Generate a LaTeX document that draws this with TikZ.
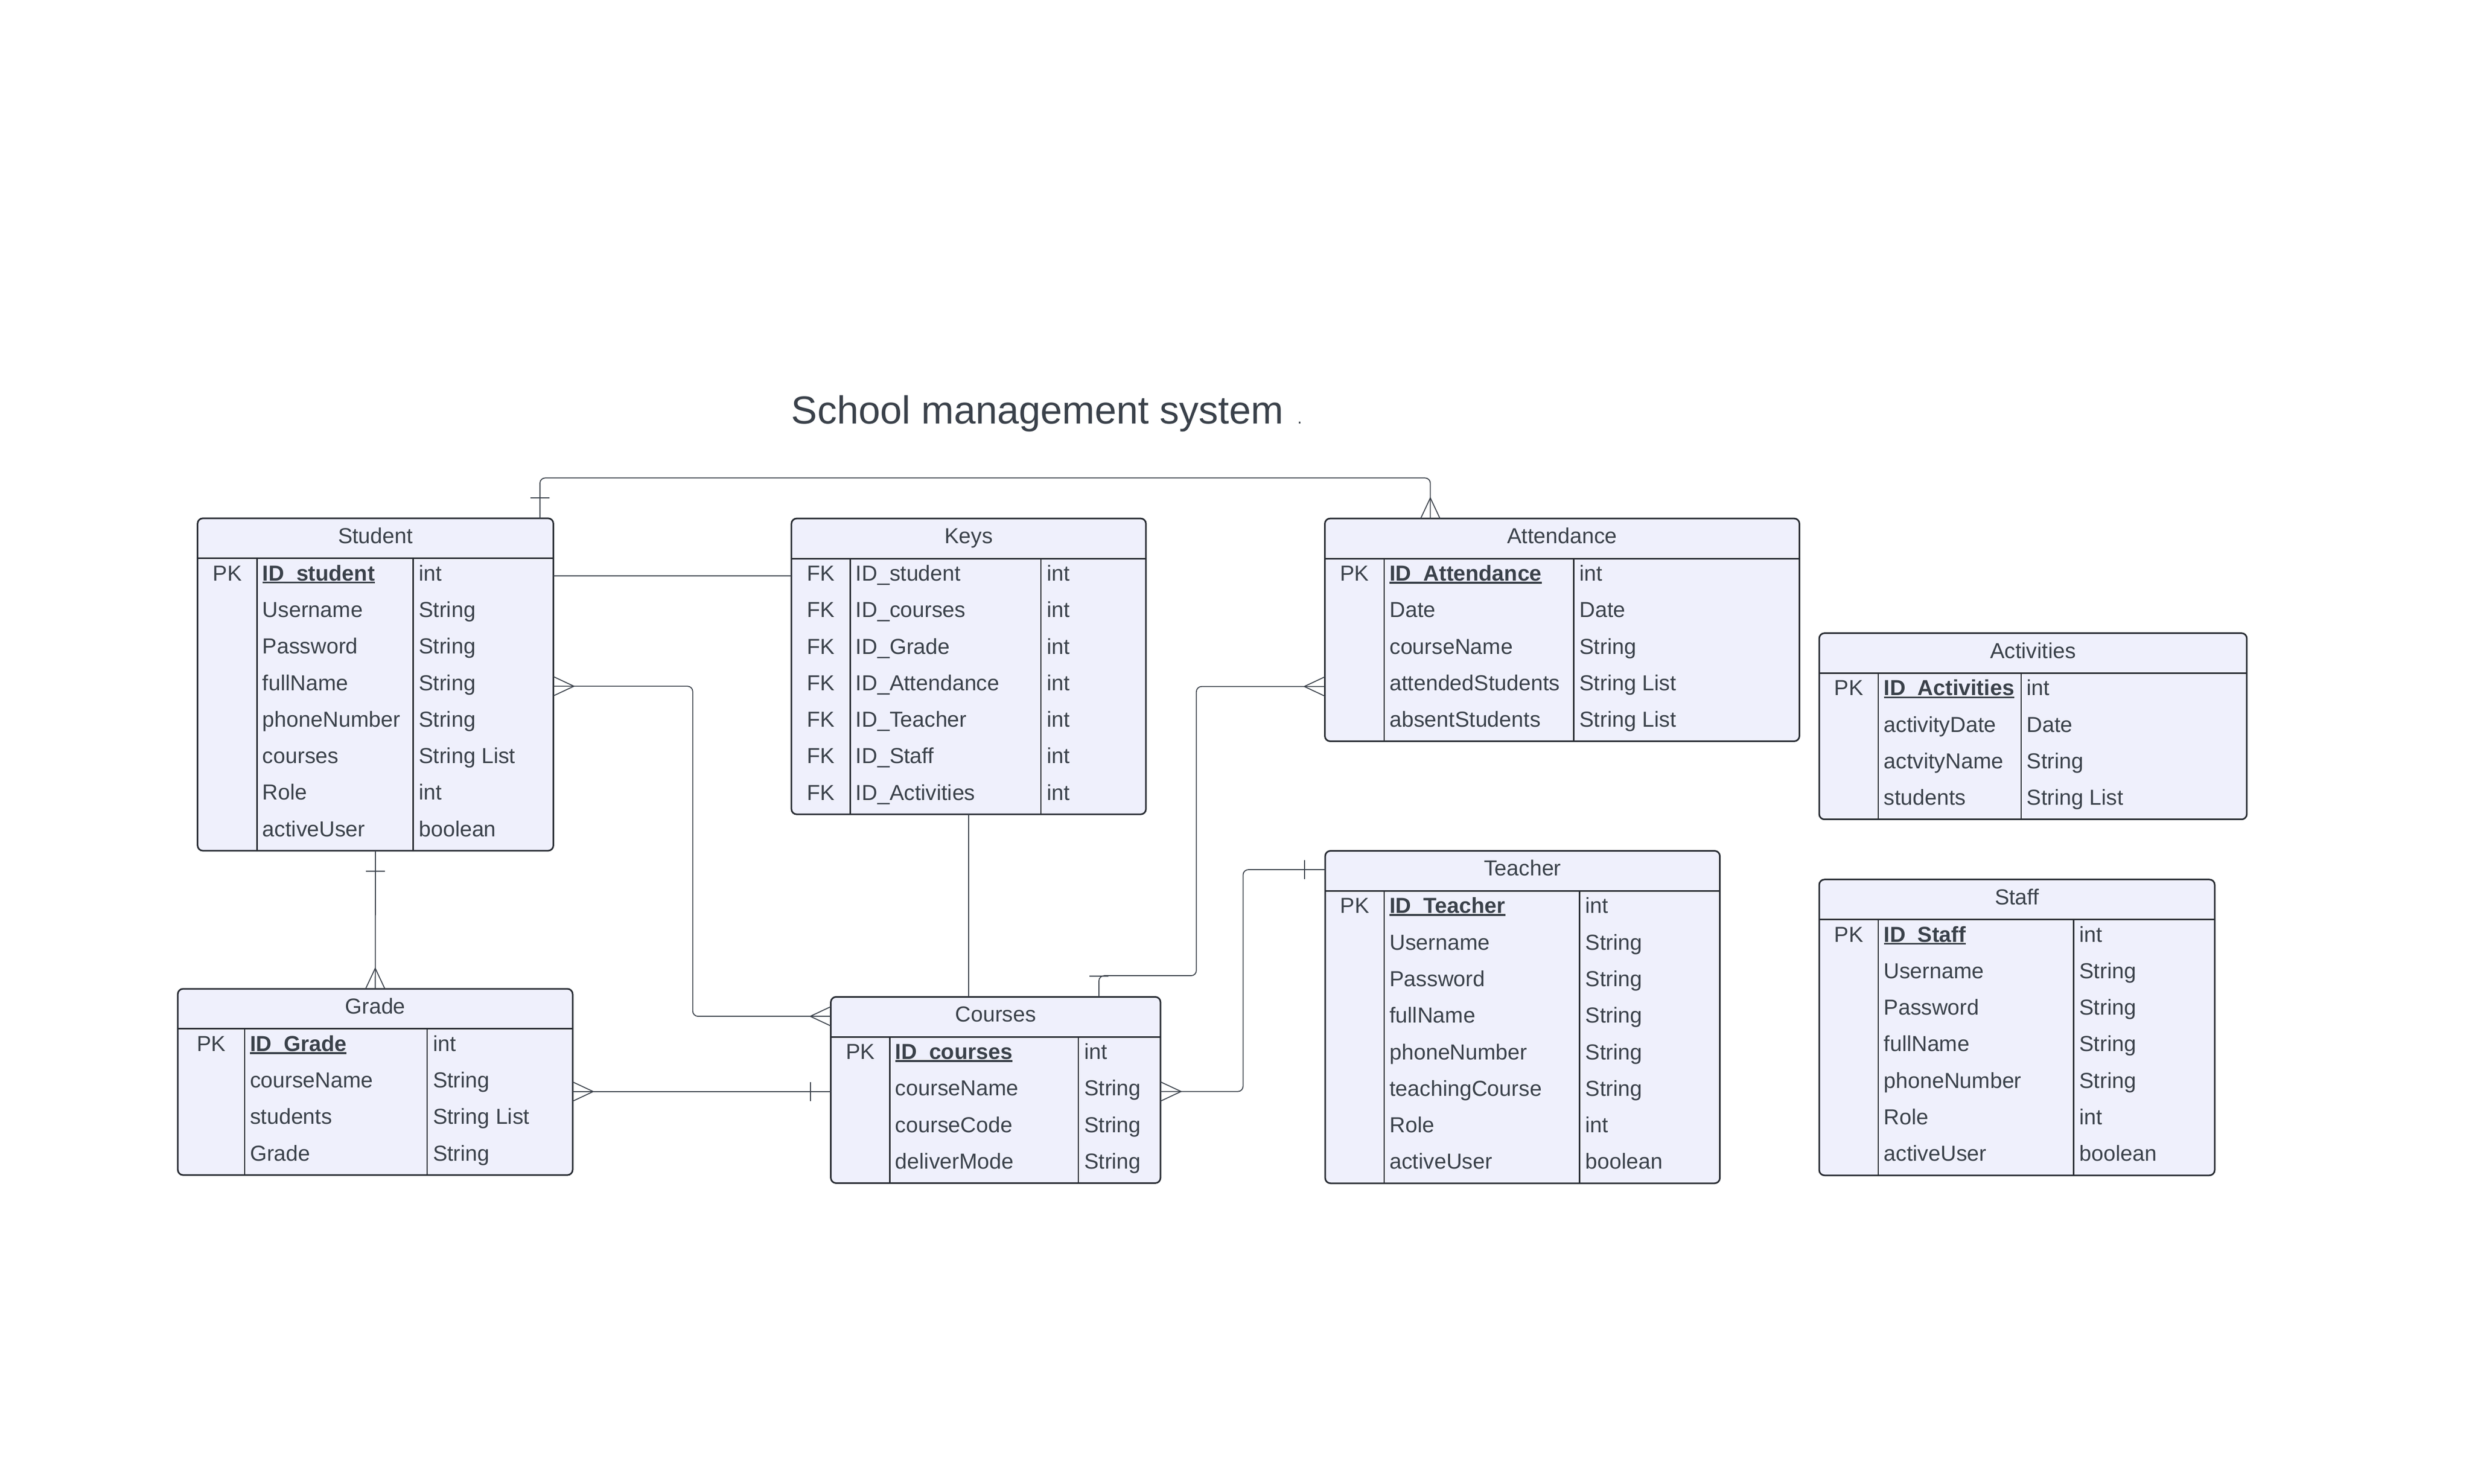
\documentclass[tikz,border=0pt]{standalone}
\usepackage{fontspec}
\setmainfont{Liberation Sans}
\usetikzlibrary{calc}
\definecolor{txt}{HTML}{3A414A}
\definecolor{bord}{HTML}{282C33}
\definecolor{tfill}{HTML}{EFF0FC}

\newcommand{\pkf}[1]{\setbox0\hbox{\bfseries #1}\rlap{\rule[-1.3pt]{\wd0}{0.9pt}}\box0}

\newcommand{\erdtab}[8]{%
  \def\curname{#1}\def\curL{#2}\def\curT{#3}\def\curCa{#5}\def\curCb{#6}%
  \pgfmathsetmacro{\tabw}{(#4-#2)*0.75}%
  \pgfmathsetmacro{\tabh}{(25.3+#7*23.1)*0.75}%
  \node[tbl, minimum width={\tabw pt}, minimum height={\tabh pt}, anchor=north west] (#1) at (#2,#3) {};
  \node[celltxt, anchor=base] (#1-title) at ({(#2+#4)/2},{#3+12.65+3.2}) {#8};
  \draw[hdrline] (#2,{#3+25.3}) -- (#4,{#3+25.3});
  \draw[colline] (#5,{#3+25.3}) -- (#5,{#3+25.3+#7*23.1});
  \draw[colline] (#6,{#3+25.3}) -- (#6,{#3+25.3+#7*23.1});
}

\newcommand{\erdrow}[4]{%
  \if\relax\detokenize{#2}\relax\else
  \node[celltxt, anchor=base] (\curname-#1-k) at ({(\curL+\curCa)/2},{\curT+25.3+(#1-0.5)*23.1+2.6}) {#2};
  \fi
  \node[celltxt, anchor=base west] (\curname-#1-f) at ({\curCa+3.2},{\curT+25.3+(#1-0.5)*23.1+2.6}) {#3};
  \node[celltxt, anchor=base west] (\curname-#1-t) at ({\curCb+3.4},{\curT+25.3+(#1-0.5)*23.1+2.6}) {#4};
}

\newcommand{\crowfoot}[3]{\draw[endmk] ($(#1)+({-(#3)*6.1},{(#2)*6.1})$) -- ($(#1)+({(#2)*13},{(#3)*13})$) -- ($(#1)+({(#3)*6.1},{-(#2)*6.1})$);}
\newcommand{\onetick}[3]{\draw[endmk] ($(#1)+({(#2)*13-(#3)*6},{(#3)*13+(#2)*6})$) -- ($(#1)+({(#2)*13+(#3)*6},{(#3)*13-(#2)*6})$);}

\begin{document}
\begin{tikzpicture}[x=0.75pt,y=-0.75pt,
  tbl/.style={draw=bord, fill=tfill, line width=0.75pt, rounded corners=2.5pt, inner sep=0pt, outer sep=0pt},
  celltxt/.style={inner sep=0pt, text=txt, font=\fontsize{10.3}{12}\selectfont},
  hdrline/.style={draw=bord, line width=0.75pt},
  colline/.style={draw=bord, line width=0.6pt},
  endmk/.style={draw=txt, line width=0.45pt},
  connline/.style={draw=txt, line width=0.45pt, rounded corners=2.5pt}]
\useasboundingbox (0,0) rectangle (1562.67,937.67);

\node[anchor=base west, inner sep=0pt, text=txt, font=\fontsize{18.5}{22}\selectfont] (title) at (500,267.8) {School management system\hspace{6.5pt}{\fontsize{8}{8}\selectfont .}};

\erdtab{student}{124.9}{327.6}{349.8}{162.5}{261.1}{8}{Student}
\erdrow{1}{PK}{\pkf{ID\_student}}{int}
\erdrow{2}{}{Username}{String}
\erdrow{3}{}{Password}{String}
\erdrow{4}{}{fullName}{String}
\erdrow{5}{}{phoneNumber}{String}
\erdrow{6}{}{courses}{String List}
\erdrow{7}{}{Role}{int}
\erdrow{8}{}{activeUser}{boolean}

\erdtab{keys}{500.3}{327.7}{724.4}{537.5}{658}{7}{Keys}
\erdrow{1}{FK}{ID\_student}{int}
\erdrow{2}{FK}{ID\_courses}{int}
\erdrow{3}{FK}{ID\_Grade}{int}
\erdrow{4}{FK}{ID\_Attendance}{int}
\erdrow{5}{FK}{ID\_Teacher}{int}
\erdrow{6}{FK}{ID\_Staff}{int}
\erdrow{7}{FK}{ID\_Activities}{int}

\erdtab{attendance}{837.5}{327.7}{1137.5}{875}{994.8}{5}{Attendance}
\erdrow{1}{PK}{\pkf{ID\_Attendance}}{int}
\erdrow{2}{}{Date}{Date}
\erdrow{3}{}{courseName}{String}
\erdrow{4}{}{attendedStudents}{String List}
\erdrow{5}{}{absentStudents}{String List}

\erdtab{activities}{1150}{400.2}{1420.3}{1187.4}{1277.6}{4}{Activities}
\erdrow{1}{PK}{\pkf{ID\_Activities}}{int}
\erdrow{2}{}{activityDate}{Date}
\erdrow{3}{}{actvityName}{String}
\erdrow{4}{}{students}{String List}

\erdtab{teacher}{837.7}{537.8}{1087.2}{875}{998.5}{8}{Teacher}
\erdrow{1}{PK}{\pkf{ID\_Teacher}}{int}
\erdrow{2}{}{Username}{String}
\erdrow{3}{}{Password}{String}
\erdrow{4}{}{fullName}{String}
\erdrow{5}{}{phoneNumber}{String}
\erdrow{6}{}{teachingCourse}{String}
\erdrow{7}{}{Role}{int}
\erdrow{8}{}{activeUser}{boolean}

\erdtab{staff}{1150}{555.9}{1400}{1187.4}{1310.8}{7}{Staff}
\erdrow{1}{PK}{\pkf{ID\_Staff}}{int}
\erdrow{2}{}{Username}{String}
\erdrow{3}{}{Password}{String}
\erdrow{4}{}{fullName}{String}
\erdrow{5}{}{phoneNumber}{String}
\erdrow{6}{}{Role}{int}
\erdrow{7}{}{activeUser}{boolean}

\erdtab{grade}{112.4}{625}{362}{154.6}{270}{4}{Grade}
\erdrow{1}{PK}{\pkf{ID\_Grade}}{int}
\erdrow{2}{}{courseName}{String}
\erdrow{3}{}{students}{String List}
\erdrow{4}{}{Grade}{String}

\erdtab{courses}{525.2}{630.1}{733.6}{562.5}{681.7}{4}{Courses}
\erdrow{1}{PK}{\pkf{ID\_courses}}{int}
\erdrow{2}{}{courseName}{String}
\erdrow{3}{}{courseCode}{String}
\erdrow{4}{}{deliverMode}{String}

% Student - Attendance
\coordinate (sa1) at ([xshift=-6.375pt]student.north east);
\coordinate (sa2) at ([xshift=50pt]attendance.north west);
\draw[connline] (sa1) -- ++(0,-25.5) -| (sa2);
\onetick{sa1}{0}{-1}
\crowfoot{sa2}{0}{-1}

% Student - Keys
\coordinate (sk1) at ([yshift=-27.3pt]student.north east);
\draw[connline] (sk1) -- (sk1 -| keys.west);

% Student - Courses
\coordinate (sc1) at ([yshift=-79.6pt]student.north east);
\coordinate (sc2) at ([yshift=-9.2pt]courses.north west);
\draw[connline] (sc1) -- ++(88.1,0) |- (sc2);
\crowfoot{sc1}{1}{0}
\crowfoot{sc2}{-1}{0}

% Student - Grade
\draw[connline] (student.south) -- (grade.north);
\onetick{student.south}{0}{1}
\crowfoot{grade.north}{0}{-1}

% Grade - Courses
\coordinate (gc1) at ([yshift=-48.7pt]grade.north east);
\coordinate (gc2) at (gc1 -| courses.west);
\draw[connline] (gc1) -- (gc2);
\crowfoot{gc1}{1}{0}
\onetick{gc2}{-1}{0}

% Keys - Courses
\draw[connline] (keys.south) -- (keys.south |- courses.north);

% Courses - Attendance
\coordinate (ca1) at ([xshift=-29.2pt]courses.north east);
\coordinate (ca2) at ([yshift=-79.65pt]attendance.north west);
\draw[connline] (ca1) -- ++(0,-13.4) -- ++(61.6,0) |- (ca2);
\onetick{ca1}{0}{-1}
\crowfoot{ca2}{-1}{0}

% Courses - Teacher
\coordinate (ct1) at ([yshift=-44.85pt]courses.north east);
\coordinate (ct2) at ([yshift=-8.9pt]teacher.north west);
\draw[connline] (ct1) -- ++(52.2,0) |- (ct2);
\crowfoot{ct1}{1}{0}
\onetick{ct2}{-1}{0}
\end{tikzpicture}
\end{document}
